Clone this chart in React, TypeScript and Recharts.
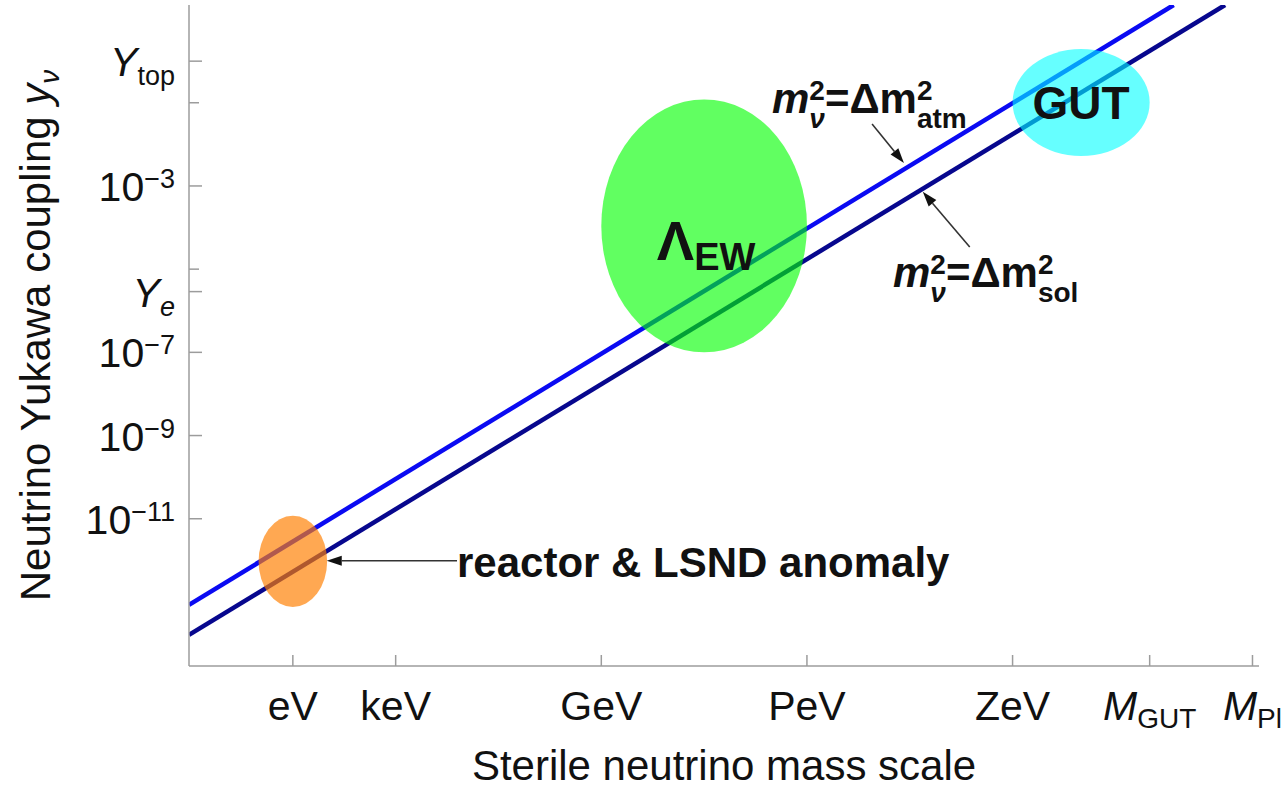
import {
  ComposedChart,
  Line,
  XAxis,
  YAxis,
  ReferenceArea,
  ReferenceLine,
  ReferenceDot,
  Label,
} from 'recharts'

const FONT = '"Liberation Sans", Arial, Helvetica, sans-serif'
const INK = '#111'
const AXIS = '#9c9c9c'

// log10 of the sterile neutrino mass in eV
const massTicks = [0, 3, 9, 15, 21, 25, 28]
const massTickLabels = ['eV', 'keV', 'GeV', 'PeV', 'ZeV', 'M_GUT', 'M_Pl']
const massDomain: [number, number] = [-3.03, 28.19]

// log10 of the Yukawa coupling
const yukawaTicks = [0, -1, -3, -5, -5.54, -7, -9, -11]
const yukawaTickLabels = ['Y_top', '', '10^-3', '', 'Y_*e', '10^-7', '10^-9', '10^-11']
const yukawaDomain: [number, number] = [-14.54, 1.35]

// seesaw lines, read at the frame edges
const atmMass = [-3.03, 25.7]
const atmYukawa = [-13.07, 1.35]
const solMass = [-3.03, 27.2]
const solYukawa = [-13.79, 1.35]

// shaded regions: mass range / yukawa range
const blobMass = [[-1, 1], [9, 15], [21, 25]]
const blobYukawa = [[-13.12, -10.93], [-7.0, -0.92], [-2.28, 0.29]]
const blobColors = ['#ff7f00', '#00ff00', '#00ffff']
const blobOpacity = [0.68, 0.62, 0.6]

// annotation anchors (text start / centre)
const noteMass = [13.98, 17.51, 4.79, 23.0, 10.62]
const noteYukawa = [-1.25, -5.43, -12.4, -1.0, -4.78]

// arrows: tail -> tip
const arrowFromMass = [16.9, 19.75, 4.79]
const arrowFromYukawa = [-1.51, -4.47, -12.01]
const arrowToMass = [17.83, 18.38, 0.99]
const arrowToYukawa = [-2.45, -3.14, -12.01]

const atmData = atmMass.map((m, i) => ({ m, y: atmYukawa[i] }))
const solData = solMass.map((m, i) => ({ m, y: solYukawa[i] }))

// "a^b" -> superscript, "A_b" -> italic A with subscript, "A_*b" -> italic subscript
function richParts(label: string, small: number, supShift: number, subShift: number) {
  if (label.includes('^')) {
    const [b, s] = label.split('^')
    return [
      <tspan key="b">{b}</tspan>,
      <tspan key="s" dy={-supShift} fontSize={small}>
        {s.replace('-', '\u2212')}
      </tspan>,
    ]
  }
  if (label.includes('_')) {
    const [b, s] = label.split('_')
    const italicSub = s.startsWith('*')
    return [
      <tspan key="b" fontStyle="italic">
        {b}
      </tspan>,
      <tspan key="s" dy={subShift} fontSize={small} fontStyle={italicSub ? 'italic' : 'normal'}>
        {italicSub ? s.slice(1) : s}
      </tspan>,
    ]
  }
  return label
}

function YTick(props: any) {
  const { x, y, payload } = props
  const label = yukawaTickLabels[yukawaTicks.indexOf(payload.value)] ?? ''
  return (
    <g>
      <line x1={x} x2={x + (label ? 13 : 10)} y1={y} y2={y} stroke={AXIS} strokeWidth={1.5} />
      {label && (
        <text x={x - 14} y={y + 15} textAnchor="end" fontSize={41} fill={INK} fontFamily={FONT}>
          {richParts(label, 27, 13, 9)}
        </text>
      )}
    </g>
  )
}

function XTick(props: any) {
  const { x, y, payload } = props
  const label = massTickLabels[massTicks.indexOf(payload.value)] ?? ''
  return (
    <g>
      <line x1={x} x2={x} y1={y} y2={y - 11} stroke={AXIS} strokeWidth={1.5} />
      <text x={x} y={y + 54} textAnchor="middle" fontSize={41} fill={INK} fontFamily={FONT}>
        {richParts(label, 28, 13, 8)}
      </text>
    </g>
  )
}

const ellipseShape = (color: string, opacity: number) => (p: any) => (
  <ellipse
    cx={p.x + p.width / 2}
    cy={p.y + p.height / 2}
    rx={Math.abs(p.width) / 2}
    ry={Math.abs(p.height) / 2}
    fill={color}
    fillOpacity={opacity}
  />
)

function Arrow(p: any) {
  const { x1, y1, x2, y2 } = p
  const a = Math.atan2(y2 - y1, x2 - x1)
  const len = 15
  const half = 5
  const bx = x2 - len * Math.cos(a)
  const by = y2 - len * Math.sin(a)
  const nx = -Math.sin(a) * half
  const ny = Math.cos(a) * half
  return (
    <g>
      <line x1={x1} y1={y1} x2={bx} y2={by} stroke="#333" strokeWidth={1.6} />
      <polygon points={`${x2},${y2} ${bx + nx},${by + ny} ${bx - nx},${by - ny}`} fill="#111" />
    </g>
  )
}

function relation(which: string) {
  return (p: any) => (
    <text x={p.cx} y={p.cy} fontFamily={FONT} fontWeight="bold" fontSize={42} fill={INK}>
      <tspan fontStyle="italic">m</tspan>
      <tspan fontSize={28} dy={-13}>2</tspan>
      <tspan fontSize={28} fontStyle="italic" dx={-15.6} dy={28}>
        ν
      </tspan>
      <tspan dy={-15}>=Δm</tspan>
      <tspan fontSize={28} dy={-13}>2</tspan>
      <tspan fontSize={28} dx={-15.6} dy={28}>
        {which}
      </tspan>
    </text>
  )
}

const noteShapes = [
  relation('atm'),
  relation('sol'),
  (p: any) => (
    <text x={p.cx} y={p.cy} fontFamily={FONT} fontWeight="bold" fontSize={42} fill={INK}>
      reactor &amp; LSND anomaly
    </text>
  ),
  (p: any) => (
    <text x={p.cx} y={p.cy + 16.5} textAnchor="middle" fontFamily={FONT} fontWeight="bold" fontSize={46} fill={INK}>
      GUT
    </text>
  ),
  (p: any) => (
    <text x={p.cx} y={p.cy} fontFamily={FONT} fontWeight="bold" fontSize={56} fill={INK}>
      <tspan>Λ</tspan>
      <tspan fontSize={38} dy={10}>
        EW
      </tspan>
    </text>
  ),
]

export default function App() {
  return (
    <div style={{ position: 'absolute', left: 0, top: 0, width: 1287, height: 794, background: '#fff' }}>
      <ComposedChart width={1287} height={794} margin={{ top: 5, right: 28, bottom: 0, left: 0 }}>
        <XAxis
          xAxisId={0}
          dataKey="m"
          type="number"
          domain={massDomain}
          allowDataOverflow
          ticks={massTicks}
          interval={0}
          height={128}
          tickSize={0}
          tickMargin={0}
          tickLine={false}
          axisLine={{ stroke: AXIS, strokeWidth: 1.5 }}
          tick={<XTick />}
        >
          <Label
            content={(p: any) => {
              const vb = p.viewBox
              return (
                <text
                  x={vb.x + vb.width / 2}
                  y={vb.y + 114}
                  textAnchor="middle"
                  fontSize={42}
                  fill={INK}
                  fontFamily={FONT}
                >
                  Sterile neutrino mass scale
                </text>
              )
            }}
          />
        </XAxis>
        <XAxis
          xAxisId="top"
          orientation="top"
          type="number"
          domain={massDomain}
          height={0}
          tick={false}
          tickLine={false}
          axisLine={{ stroke: AXIS, strokeWidth: 1.5 }}
        />
        <YAxis
          yAxisId={0}
          type="number"
          domain={yukawaDomain}
          allowDataOverflow
          ticks={yukawaTicks}
          interval={0}
          width={189}
          tickSize={0}
          tickMargin={0}
          tickLine={false}
          axisLine={{ stroke: AXIS, strokeWidth: 1.5 }}
          tick={<YTick />}
        >
          <Label
            content={(p: any) => {
              const vb = p.viewBox
              const cx = vb.x + 50
              const cy = vb.y + vb.height / 2
              return (
                <text
                  x={cx}
                  y={cy}
                  transform={`rotate(-90 ${cx} ${cy})`}
                  textAnchor="middle"
                  fontSize={42}
                  fill={INK}
                  fontFamily={FONT}
                >
                  <tspan>Neutrino Yukawa coupling </tspan>
                  <tspan fontStyle="italic">y</tspan>
                  <tspan fontSize={28} fontStyle="italic" dy={9}>
                    ν
                  </tspan>
                </text>
              )
            }}
          />
        </YAxis>
        <YAxis
          yAxisId="right"
          orientation="right"
          type="number"
          domain={yukawaDomain}
          width={0}
          tick={false}
          tickLine={false}
          axisLine={{ stroke: AXIS, strokeWidth: 1.5 }}
        />

        <Line
          data={atmData}
          dataKey="y"
          type="linear"
          stroke="#0a0af2"
          strokeWidth={4.5}
          dot={false}
          activeDot={false}
          isAnimationActive={false}
        />
        <Line
          data={solData}
          dataKey="y"
          type="linear"
          stroke="#07078e"
          strokeWidth={4.5}
          dot={false}
          activeDot={false}
          isAnimationActive={false}
        />

        {blobMass.map((mr, i) => (
          <ReferenceArea
            key={`blob-${i}`}
            x1={mr[0]}
            x2={mr[1]}
            y1={blobYukawa[i][0]}
            y2={blobYukawa[i][1]}
            zIndex={450}
            shape={ellipseShape(blobColors[i], blobOpacity[i])}
          />
        ))}

        {arrowFromMass.map((m, i) => (
          <ReferenceLine
            key={`arrow-${i}`}
            segment={[
              { x: m, y: arrowFromYukawa[i] },
              { x: arrowToMass[i], y: arrowToYukawa[i] },
            ]}
            zIndex={460}
            shape={Arrow}
          />
        ))}

        {noteMass.map((m, i) => (
          <ReferenceDot
            key={`note-${i}`}
            x={m}
            y={noteYukawa[i]}
            r={0}
            zIndex={470}
            shape={noteShapes[i]}
          />
        ))}
      </ComposedChart>
    </div>
  )
}
